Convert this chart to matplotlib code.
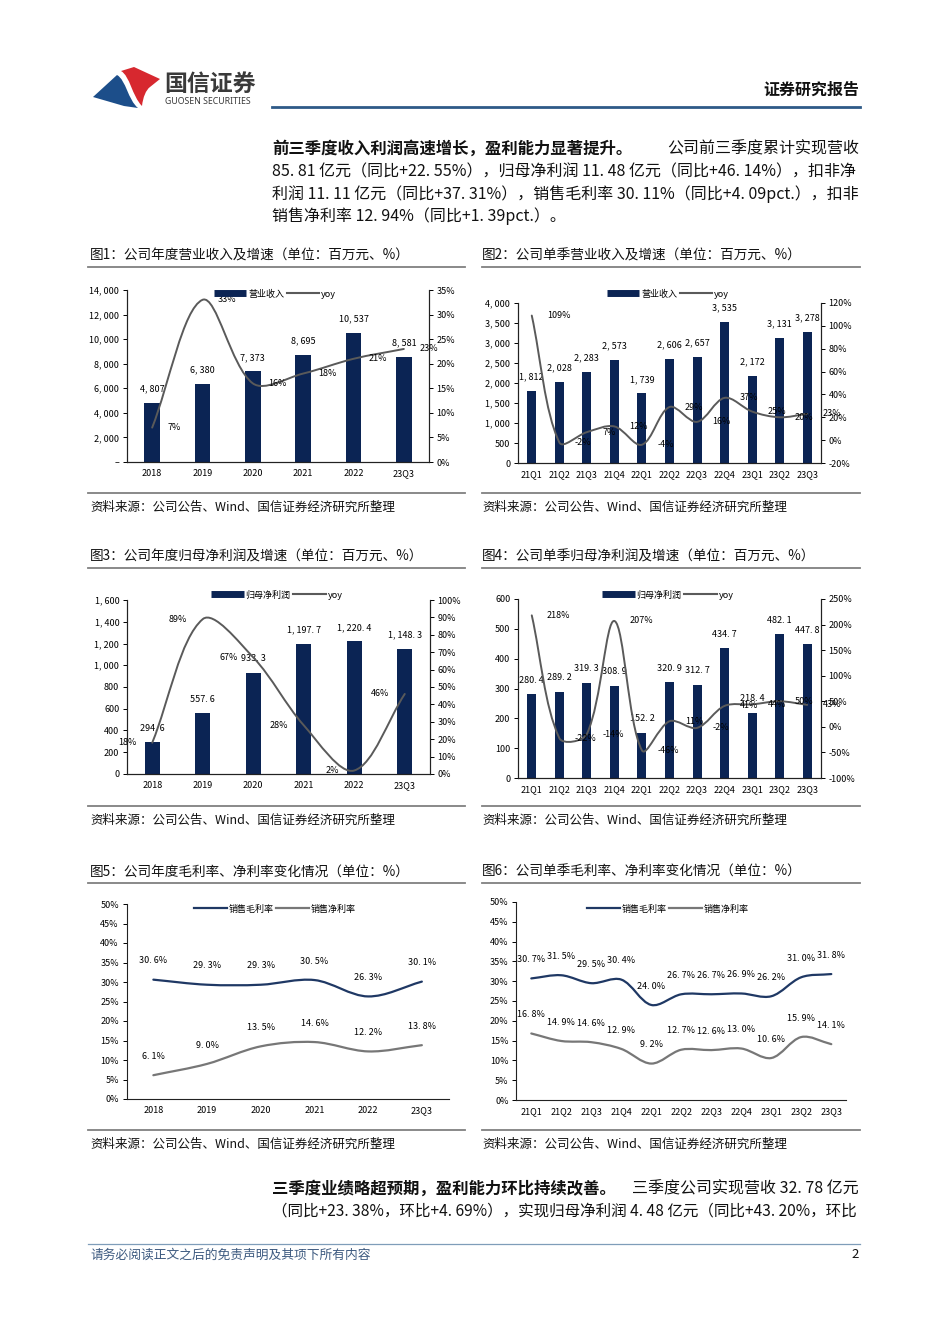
import matplotlib
matplotlib.use("Agg")
import numpy as np
import matplotlib.pyplot as plt
from matplotlib.path import Path
from matplotlib.patches import PathPatch
from matplotlib.lines import Line2D

plt.rcParams["font.family"] = ["Noto Sans CJK SC", "DejaVu Sans"]
plt.rcParams["axes.unicode_minus"] = False

W, H = 950, 1344
NAVY = "#0B2454"
GRAY = "#5A5A5A"
LGRAY = "#808080"

# ========== Data ==========
years = ["2018", "2019", "2020", "2021", "2022", "23Q3"]
quarters = ["21Q1", "21Q2", "21Q3", "21Q4", "22Q1", "22Q2",
            "22Q3", "22Q4", "23Q1", "23Q2", "23Q3"]

rev_year = [4807, 6380, 7373, 8695, 10537, 8581]
rev_year_yoy = [7, 33, 16, 18, 21, 23]
rev_q = [1812, 2028, 2283, 2573, 1739, 2606, 2657, 3535, 2172, 3131, 3278]
rev_q_yoy = [109, -2, 7, 12, -4, 29, 16, 37, 25, 20, 23]

np_year = [294.6, 557.6, 933.3, 1197.7, 1220.4, 1148.3]
np_year_yoy = [18, 89, 67, 28, 2, 46]
np_q = [280.4, 289.2, 319.3, 308.9, 152.2, 320.9, 312.7, 434.7, 218.4, 482.1, 447.8]
np_q_yoy = [218, -22, -14, 207, -46, 11, -2, 41, 44, 50, 43]

gm_year = [30.6, 29.3, 29.3, 30.5, 26.3, 30.1]
nm_year = [6.1, 9.0, 13.5, 14.6, 12.2, 13.8]
gm_q = [30.7, 31.5, 29.5, 30.4, 24.0, 26.7, 26.7, 26.9, 26.2, 31.0, 31.8]
nm_q = [16.8, 14.9, 14.6, 12.9, 9.2, 12.7, 12.6, 13.0, 10.6, 15.9, 14.1]

# ========== Helpers ==========
fig = plt.figure(figsize=(W / 100, H / 100), dpi=100)


def box(l, t, r, b):
    return [l / W, 1 - b / H, (r - l) / W, (b - t) / H]


def ftext(x, y, s, **kw):
    kw.setdefault("va", "center")
    kw.setdefault("color", "#111111")
    fig.text(x / W, 1 - y / H, s, **kw)


def hline(x0, x1, y, color, lw):
    fig.add_artist(Line2D([x0 / W, x1 / W], [1 - y / H, 1 - y / H],
                          color=color, lw=lw, transform=fig.transFigure))


def fig_shape(cmds, color):
    # cmds: list of (code, [(x, y), ...]) in page pixels
    verts, codes = [], []
    for code, pts in cmds:
        for p in pts:
            verts.append((p[0] / W, 1 - p[1] / H))
            codes.append(code)
    verts.append(verts[0])
    codes.append(Path.CLOSEPOLY)
    fig.add_artist(PathPatch(Path(verts, codes), facecolor=color, edgecolor="none",
                             transform=fig.transFigure))


def smooth_line(ax, xs, ys, color, lw):
    # Excel-like smoothed line: bezier segments built in screen space
    pts = ax.transData.transform(np.column_stack([xs, ys]).astype(float))
    n = len(pts)
    verts = [pts[0]]
    for i in range(n - 1):
        p0 = pts[i - 1] if i > 0 else pts[i]
        p1, p2 = pts[i], pts[i + 1]
        p3 = pts[i + 2] if i + 2 < n else pts[i + 1]
        d01 = np.hypot(*(p1 - p0))
        d12 = np.hypot(*(p2 - p1))
        d23 = np.hypot(*(p3 - p2))
        c1 = p1 + (p2 - p0) * d12 / (d01 + d12) / 3
        c2 = p2 - (p3 - p1) * d12 / (d12 + d23) / 3
        verts += [c1, c2, p2]
    verts = ax.transData.inverted().transform(np.array(verts))
    codes = [Path.MOVETO] + [Path.CURVE4] * (len(verts) - 1)
    ax.add_patch(PathPatch(Path(verts, codes), fill=False, edgecolor=color,
                           lw=lw, capstyle="round", joinstyle="round"))


def num_fmt(v, dec=0):
    s = f"{v:,.{dec}f}"
    return s.replace(",", ", ").replace(".", ". ")


def style_axis(ax, fs=6.5):
    ax.tick_params(axis="y", length=3, width=0.7, pad=2.5, labelsize=fs)
    ax.tick_params(axis="x", length=0, pad=5, labelsize=fs)
    for sp in ax.spines.values():
        sp.set_linewidth(0.8)
        sp.set_color("#222222")


def combo(rect, cats, bars, yoy, ylim, yticks, ylabels, y2lim, y2ticks,
          bar_dec, side, name, leg_xy, bar_w):
    ax = fig.add_axes(box(*rect))
    x = np.arange(len(cats))
    ax.bar(x, bars, width=bar_w, color=NAVY, zorder=2)
    ax.set_xlim(-0.5, len(cats) - 0.5)
    ax.set_ylim(*ylim)
    ax.set_yticks(yticks)
    ax.set_yticklabels(ylabels)
    ax.set_xticks(x)
    ax.set_xticklabels(cats)
    ax.spines["top"].set_visible(False)
    style_axis(ax)
    for i, v in enumerate(bars):
        ax.annotate(num_fmt(v, bar_dec), (i, v), xytext=(0, 10),
                    textcoords="offset points", ha="center", va="center",
                    fontsize=6.5)
    ax2 = ax.twinx()
    ax2.set_ylim(*y2lim)
    ax2.set_yticks(y2ticks)
    ax2.set_yticklabels([f"{t}%" for t in y2ticks])
    ax2.spines["top"].set_visible(False)
    style_axis(ax2)
    smooth_line(ax2, x, yoy, GRAY, 1.4)
    dx = 11 if side == "right" else -11
    for i, v in enumerate(yoy):
        ax2.annotate(f"{v}%", (i, v), xytext=(dx, 0), textcoords="offset points",
                     ha="left" if side == "right" else "right", va="center",
                     fontsize=6.5)
    hb = Line2D([], [], color=NAVY, lw=5, solid_capstyle="butt")
    hl = Line2D([], [], color=GRAY, lw=1.5)
    ax2.legend([hb, hl], [name, "yoy"], loc="center",
               bbox_to_anchor=(leg_xy[0] / W, 1 - leg_xy[1] / H),
               bbox_transform=fig.transFigure, ncol=2, frameon=False,
               fontsize=6.5, handlelength=3.6, handletextpad=0.2,
               columnspacing=0.3, borderpad=0, borderaxespad=0)
    return ax, ax2


def margin_chart(rect, cats, gm, nm, leg_xy):
    ax = fig.add_axes(box(*rect))
    x = np.arange(len(cats))
    ax.set_xlim(-0.5, len(cats) - 0.5)
    ax.set_ylim(0, 50)
    ax.set_yticks(range(0, 51, 5))
    ax.set_yticklabels([f"{t}%" for t in range(0, 51, 5)])
    ax.set_xticks(x)
    ax.set_xticklabels(cats)
    ax.spines["top"].set_visible(False)
    ax.spines["right"].set_visible(False)
    style_axis(ax)
    smooth_line(ax, x, gm, "#1F3864", 1.6)
    smooth_line(ax, x, nm, "#777777", 1.6)
    for series in (gm, nm):
        for i, v in enumerate(series):
            ax.annotate(num_fmt(v, 1) + "%", (i, v), xytext=(0, 13.5),
                        textcoords="offset points", ha="center", va="center",
                        fontsize=6.5)
    h1 = Line2D([], [], color="#1F3864", lw=1.6)
    h2 = Line2D([], [], color="#777777", lw=1.6)
    ax.legend([h1, h2], ["销售毛利率", "销售净利率"], loc="center",
              bbox_to_anchor=(leg_xy[0] / W, 1 - leg_xy[1] / H),
              bbox_transform=fig.transFigure, ncol=2, frameon=False,
              fontsize=6.5, handlelength=3.6, handletextpad=0.2,
              columnspacing=0.3, borderpad=0, borderaxespad=0)
    return ax


# ========== Header ==========
M, L, C = Path.MOVETO, Path.LINETO, Path.CURVE4
fig_shape([(M, [(93, 97)]), (L, [(117, 75)]),
           (C, [(126, 80), (128, 100), (138, 108)]), (L, [(124, 106)])], "#1C4E8A")
fig_shape([(M, [(121, 71)]), (L, [(134, 67), (160, 79), (150, 87)]),
           (C, [(146, 90), (143, 97), (142, 106)]),
           (C, [(132, 96), (130, 76), (121, 71)])], "#D7282F")
ftext(164, 84, "国信证券", fontsize=16.5, weight="bold", color="#3A3A3A")
ftext(165, 102, "GUOSEN SECURITIES", fontsize=6.3, weight="bold", color="#3A3A3A",
      family=["Noto Sans", "DejaVu Sans"])
ftext(859, 90, "证券研究报告", fontsize=11.5, weight="bold", ha="right")
hline(272, 860, 107, "#2E5A87", 2.0)

# ========== Paragraph 1 ==========
PFS = 11.5
ftext(272, 149, "前三季度收入利润高速增长，盈利能力显著提升。", fontsize=11.8, weight="bold")
ftext(859, 149, "公司前三季度累计实现营收", fontsize=PFS, ha="right")
ftext(272, 172, "85. 81 亿元（同比+22. 55%），归母净利润 11. 48 亿元（同比+46. 14%），扣非净",
      fontsize=PFS)
ftext(272, 194, "利润 11. 11 亿元（同比+37. 31%），销售毛利率 30. 11%（同比+4. 09pct.），扣非",
      fontsize=PFS)
ftext(272, 216, "销售净利率 12. 94%（同比+1. 39pct.）。", fontsize=PFS)

# ========== Figure titles / rules / sources ==========
titles = [
    (256, "图1：公司年度营业收入及增速（单位：百万元、%）", "图2：公司单季营业收入及增速（单位：百万元、%）"),
    (557, "图3：公司年度归母净利润及增速（单位：百万元、%）", "图4：公司单季归母净利润及增速（单位：百万元、%）"),
    (872, "图5：公司年度毛利率、净利率变化情况（单位：%）", "图6：公司单季毛利率、净利率变化情况（单位：%）"),
]
for y, t1, t2 in titles:
    ftext(90, y, t1, fontsize=9.8)
    ftext(482, y, t2, fontsize=9.8)
    hline(88, 465, y + 11, LGRAY, 1.3)
    hline(482, 860, y + 11, LGRAY, 1.3)

src = "资料来源：公司公告、Wind、国信证券经济研究所整理"
for y in (493, 806, 1130):
    hline(88, 465, y, LGRAY, 1.3)
    hline(482, 860, y, LGRAY, 1.3)
    ftext(90, y + 14, src, fontsize=9.0)
    ftext(482, y + 14, src, fontsize=9.0)

# ========== Charts ==========
combo((127, 290, 429, 462), years, rev_year, rev_year_yoy,
      (0, 14000), range(0, 14001, 2000),
      ["–"] + [num_fmt(v) for v in range(2000, 14001, 2000)],
      (0, 35), list(range(0, 36, 5)), 0, "right", "营业收入", (275, 294), 0.31)

combo((518, 303, 821, 463), quarters, rev_q, rev_q_yoy,
      (0, 4000), range(0, 4001, 500), [num_fmt(v) for v in range(0, 4001, 500)],
      (-20, 120), list(range(-20, 121, 20)), 0, "right", "营业收入", (668, 294), 0.33)

combo((127, 600, 430, 774), years, np_year, np_year_yoy,
      (0, 1600), range(0, 1601, 200), [num_fmt(v) for v in range(0, 1601, 200)],
      (0, 100), list(range(0, 101, 10)), 1, "left", "归母净利润", (277, 595), 0.3)

combo((518, 599, 821, 778), quarters, np_q, np_q_yoy,
      (0, 600), range(0, 601, 100), [str(v) for v in range(0, 601, 100)],
      (-100, 250), list(range(-100, 251, 50)), 1, "right", "归母净利润", (668, 595), 0.33)

margin_chart((126.5, 904, 448.7, 1099), years, gm_year, nm_year, (275, 909))
margin_chart((516.3, 902, 846.3, 1100), quarters, gm_q, nm_q, (668, 909))

# ========== Paragraph 2 ==========
ftext(272, 1189, "三季度业绩略超预期，盈利能力环比持续改善。", fontsize=11.8, weight="bold")
ftext(859, 1189, "三季度公司实现营收 32. 78 亿元", fontsize=PFS, ha="right")
ftext(272, 1211, "（同比+23. 38%，环比+4. 69%），实现归母净利润 4. 48 亿元（同比+43. 20%，环比",
      fontsize=11.2)

# ========== Footer ==========
hline(88, 860, 1244, "#7F9DB9", 0.9)
ftext(90, 1255, "请务必阅读正文之后的免责声明及其项下所有内容", fontsize=9.2, color="#3D5A80")
ftext(859, 1255, "2", fontsize=9.5, ha="right")

fig.savefig("out.png", dpi=100)
